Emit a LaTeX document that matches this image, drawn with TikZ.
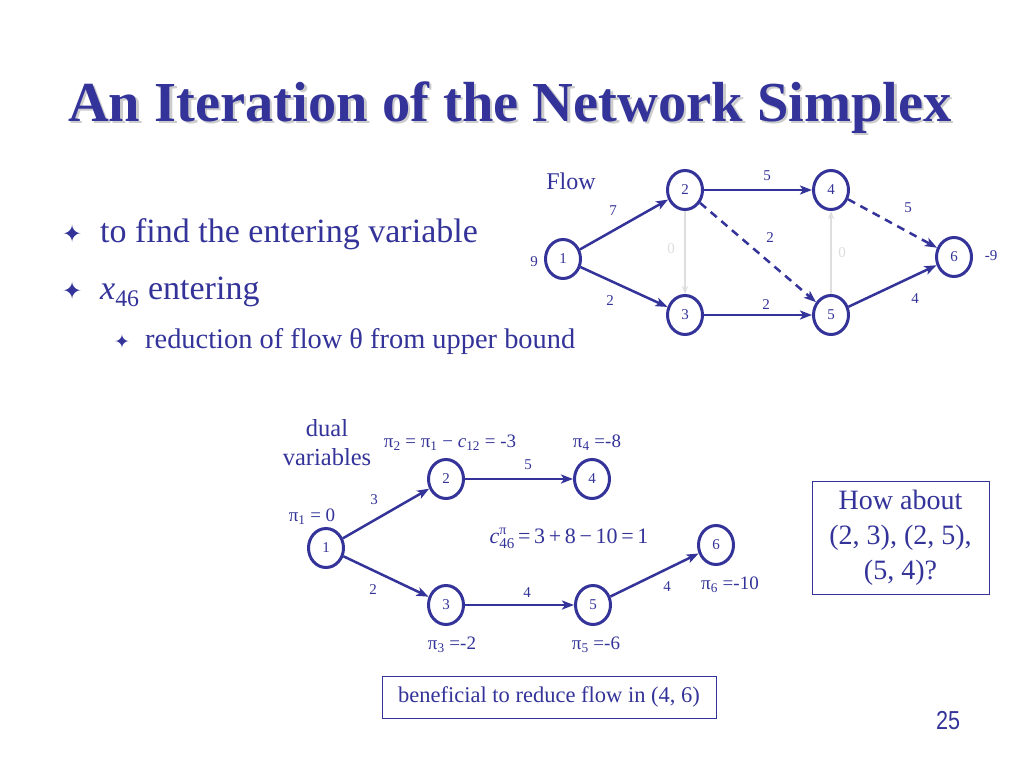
\documentclass[tikz,border=0pt]{standalone}
\usepackage{fontspec}
\setmainfont{Liberation Serif}
\newfontfamily\dejavu{DejaVu Sans}
\newfontfamily\narrowsans{Liberation Sans}
\usetikzlibrary{arrows.meta,shapes.geometric}
\definecolor{mainblue}{RGB}{51,51,153}
\definecolor{faint}{RGB}{222,222,222}
\tikzset{
  vert/.style={ellipse,draw=mainblue,line width=3pt,minimum width=35pt,minimum height=39pt,inner sep=0pt,text=mainblue,font=\fontsize{15}{15}\selectfont},
  arc/.style={draw=mainblue,line width=2.5pt,-{Stealth[length=12pt,width=9pt,inset=3pt]}},
  dasharc/.style={arc,dash pattern=on 8pt off 6pt},
  greyarc/.style={draw=faint,line width=1.8pt,-{Stealth[length=8pt,width=6pt]}},
  elab/.style={text=mainblue,font=\fontsize{15}{15}\selectfont,inner sep=0pt},
  glab/.style={text=faint,font=\fontsize{15}{15}\selectfont,inner sep=0pt},
  pilab/.style={text=mainblue,font=\fontsize{19}{19}\selectfont,inner sep=0pt},
  boxed/.style={draw=mainblue,line width=1pt,text=mainblue,align=center},
  txt/.style={text=mainblue,inner sep=0pt,anchor=base west}
}
\begin{document}
\begin{tikzpicture}[x=1pt,y=-1pt]
\useasboundingbox[fill=white] (0,0) rectangle (1024,768);
% title
\node[text=gray!40,inner sep=0pt,anchor=base west,font=\fontsize{56.5}{56.5}\bfseries] (titleshadow) at (70.5,123.5) {An Iteration of the Network Simplex};
\node[text=mainblue,inner sep=0pt,anchor=base west,font=\fontsize{56.5}{56.5}\bfseries] (title) at (68,121) {An Iteration of the Network Simplex};
% bullets
\node[txt,font=\dejavu\fontsize{24}{24}\selectfont] (b1) at (62,242) {✦};
\node[txt,font=\fontsize{34}{34}\selectfont] (t1) at (100,242) {to find the entering variable};
\node[txt,font=\dejavu\fontsize{24}{24}\selectfont] (b2) at (62,299) {✦};
\node[txt,font=\fontsize{34}{34}\selectfont] (t2) at (100,299) {\textit{x}\textsubscript{46} entering};
\node[txt,font=\dejavu\fontsize{19}{19}\selectfont] (b3) at (114,348) {✦};
\node[txt,font=\fontsize{28.4}{28.4}\selectfont] (t3) at (145,348) {reduction of flow θ from upper bound};
% top network
\node[vert] (a1) at (563,259) {1};
\node[vert] (a2) at (685,190) {2};
\node[vert] (a3) at (685,315) {3};
\node[vert] (a4) at (831,190) {4};
\node[vert] (a5) at (831,315) {5};
\node[vert] (a6) at (954,257) {6};
\node[text=mainblue,font=\fontsize{24}{24}\selectfont,inner sep=0pt] (flow) at (571,181) {Flow};
\draw[greyarc] (a2) -- (a3);
\draw[greyarc] (a5) -- (a4);
\draw[arc] (a1) -- (a2);
\draw[arc] (a1) -- (a3);
\draw[arc] (a2) -- (a4);
\draw[arc] (a3) -- (a5);
\draw[arc] (a5) -- (a6);
\draw[dasharc] (a2) -- (a5);
\draw[dasharc] (a4) -- (a6);
\node[elab] (l12) at (613,211) {7};
\node[elab] (l24) at (767,176) {5};
\node[elab] (l25) at (770,238) {2};
\node[elab] (l46) at (908,208) {5};
\node[elab] (l13) at (610,301) {2};
\node[elab] (l35) at (766,305) {2};
\node[elab] (l56) at (915,299) {4};
\node[glab] (l23) at (671,249) {0};
\node[glab] (l54) at (842,253) {0};
\node[elab] (s1) at (534,262) {9};
\node[elab] (s6) at (991,256) {-9};
% bottom network
\node[vert] (d1) at (326,548) {1};
\node[vert] (d2) at (446,479) {2};
\node[vert] (d4) at (592,479) {4};
\node[vert] (d3) at (446,605) {3};
\node[vert] (d5) at (593,605) {5};
\node[vert] (d6) at (716,545) {6};
\draw[arc] (d1) -- (d2);
\draw[arc] (d1) -- (d3);
\draw[arc] (d2) -- (d4);
\draw[arc] (d3) -- (d5);
\draw[arc] (d5) -- (d6);
\node[elab] (m12) at (374,500) {3};
\node[elab] (m13) at (373,590) {2};
\node[elab] (m24) at (528,465) {5};
\node[elab] (m35) at (527,593) {4};
\node[elab] (m56) at (667,587) {4};
\node[text=mainblue,font=\fontsize{24.5}{29}\selectfont,align=center,inner sep=0pt] (dual) at (327,443) {dual\\variables};
\node[pilab] (p2) at (450,443) {π\textsubscript{2} = π\textsubscript{1} − \textit{c}\textsubscript{12} = -3};
\node[pilab] (p4) at (597,443) {π\textsubscript{4} =-8};
\node[pilab] (p1) at (312,517) {π\textsubscript{1} = 0};
\node[pilab] (p6) at (730,585) {π\textsubscript{6} =-10};
\node[pilab] (p3) at (452,645) {π\textsubscript{3} =-2};
\node[pilab] (p5) at (596,645) {π\textsubscript{5} =-6};
\node[text=mainblue,font=\fontsize{22}{22}\selectfont,inner sep=0pt] (cpi) at (569,538) {\textit{c}\rlap{\raisebox{9pt}{\fontsize{14}{14}\selectfont π}}\raisebox{-5pt}{\fontsize{15}{15}\selectfont 46}\,=\,3\,+\,8\,−\,10\,=\,1};
% boxes
\node[boxed,font=\fontsize{22.5}{22.5}\selectfont,minimum width=334pt,minimum height=42pt,inner sep=0pt] (benef) at (549,697) {beneficial to reduce flow in (4, 6)};
\node[boxed,font=\fontsize{28}{35}\selectfont,minimum width=177pt,minimum height=113pt,inner sep=0pt] (howabout) at (900.5,537.5) {How about\\(2, 3), (2, 5),\\(5, 4)?};
% page number
\node[text=mainblue,inner sep=0pt,font=\narrowsans\fontsize{26}{26}\selectfont,xscale=0.83] (page) at (948,721) {25};
\end{tikzpicture}
\end{document}
